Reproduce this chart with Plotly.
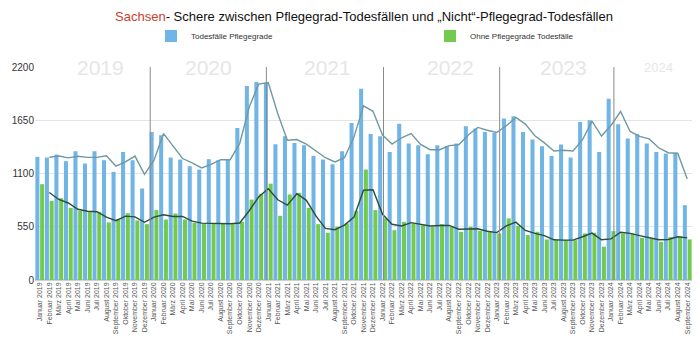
import plotly.graph_objects as go
import pandas as pd

month_names = ["Januar", "Februar", "März", "April", "Mai", "Juni", "Juli",
               "August", "September", "Oktober", "November", "Dezember"]
years = [2019, 2020, 2021, 2022, 2023, 2024]
tick_labels = [f"{m} {y}" for y in years for m in month_names][:69]

pflegegrade = [
    1272, 1265, 1296, 1227, 1330, 1203, 1330, 1237, 1117, 1323, 1237, 945,
    1529, 1495, 1265, 1244, 1175, 1141, 1248, 1237, 1248, 1571, 2003, 2045,
    2034, 1402, 1485, 1416, 1392, 1282, 1244, 1196, 1330, 1622, 1976, 1508,
    1485, 1323, 1615, 1409, 1392, 1299, 1392, 1385, 1409, 1588, 1564, 1529,
    1519, 1667, 1691, 1529, 1450, 1382, 1282, 1399, 1265, 1633, 1650, 1323,
    1873, 1608, 1461, 1505, 1409, 1323, 1306, 1313, 773,
]
ohne_pflegegrade = [
    990, 818, 845, 746, 715, 705, 705, 595, 630, 690, 615, 577,
    722, 625, 687, 625, 591, 584, 584, 584, 577, 601, 830, 890,
    995, 663, 883, 900, 746, 577, 488, 550, 584, 715, 1141, 722,
    636, 515, 601, 584, 567, 550, 577, 550, 498, 550, 509, 498,
    481, 636, 560, 464, 498, 419, 412, 412, 412, 481, 488, 344,
    505, 481, 481, 436, 436, 395, 443, 450, 419,
]

# background year captions and separators (position in month index units)
year_caption_text = ["2019", "2020", "2021", "2022", "2023", "2024"]
year_caption_pos = [6.35, 17.7, 30.2, 43.1, 55.05, 65.0]
year_caption_size = [21, 21, 21, 21, 21, 13]
separator_pos = [11.6, 23.8, 36.1, 48.3, 60.3]

x = list(range(len(tick_labels)))
trend_blue = pd.Series(pflegegrade).rolling(2).mean()
trend_green = pd.Series(ohne_pflegegrade).rolling(2).mean()

BLUE = "#70b5e5"
GREEN = "#72cb4c"

fig = go.Figure()
fig.add_trace(go.Bar(x=x, y=pflegegrade, name="Todesfälle Pflegegrade",
                     marker=dict(color=BLUE, line=dict(width=0))))
fig.add_trace(go.Bar(x=x, y=ohne_pflegegrade, name="Ohne Pflegegrade Todesfälle",
                     marker=dict(color=GREEN, line=dict(width=0))))
fig.add_trace(go.Scatter(x=x, y=trend_blue, mode="lines", showlegend=False,
                         line=dict(color="#6f9aa1", width=1.4), hoverinfo="skip"))
fig.add_trace(go.Scatter(x=x, y=trend_green, mode="lines", showlegend=False,
                         line=dict(color="#2d4d38", width=1.4), hoverinfo="skip"))

for p in separator_pos:
    fig.add_shape(type="line", x0=p, x1=p, y0=0, y1=2200, xref="x", yref="y",
                  line=dict(color="#8a8a8a", width=1), layer="above")

for t, p, s in zip(year_caption_text, year_caption_pos, year_caption_size):
    fig.add_annotation(x=p, y=2200, xref="x", yref="y", text=t, showarrow=False,
                       font=dict(family="Liberation Sans", size=s, color="#e6e6e6"),
                       bgcolor="white", xanchor="center", yanchor="middle", borderpad=0)

fig.update_layout(
    width=700, height=351,
    margin=dict(l=35, r=8, t=67, b=71),
    paper_bgcolor="white", plot_bgcolor="white",
    barmode="group", bargap=0.0, bargroupgap=0.15,
    font=dict(family="Liberation Sans", color="#333"),
    title=dict(
        text="<span style='color:#c9412f'>Sachsen</span>- Schere zwischen Pflegegrad-Todesfällen und „Nicht“-Pflegegrad-Todesfällen",
        xref="paper", x=(364 - 35) / 657, xanchor="center", y=1 - 16 / 351, yanchor="middle",
        font=dict(family="Liberation Sans", size=13, color="#111"),
    ),
    legend=dict(
        orientation="h", xref="container", yref="container",
        x=151 / 700, xanchor="left", y=1 - 36 / 351, yanchor="middle",
        entrywidth=234, entrywidthmode="pixels",
        font=dict(family="Liberation Sans", size=8, color="#333"),
        itemwidth=30, bgcolor="rgba(0,0,0,0)",
    ),
    xaxis=dict(
        range=[-0.5, len(x) - 0.5], tickmode="array", tickvals=x, ticktext=tick_labels,
        tickangle=-90, tickfont=dict(size=7, color="#555"), showgrid=False,
        showline=False, zeroline=False, ticks="",
    ),
    yaxis=dict(
        range=[0, 2200], tickmode="array", tickvals=[0, 550, 1100, 1650, 2200],
        tickfont=dict(size=10, color="#333"), showgrid=True, gridcolor="#e4e4e4",
        gridwidth=1, zeroline=True, zerolinecolor="#d0d0d0", ticks="",
    ),
    hovermode=False,
)

fig.write_html("out.html")
